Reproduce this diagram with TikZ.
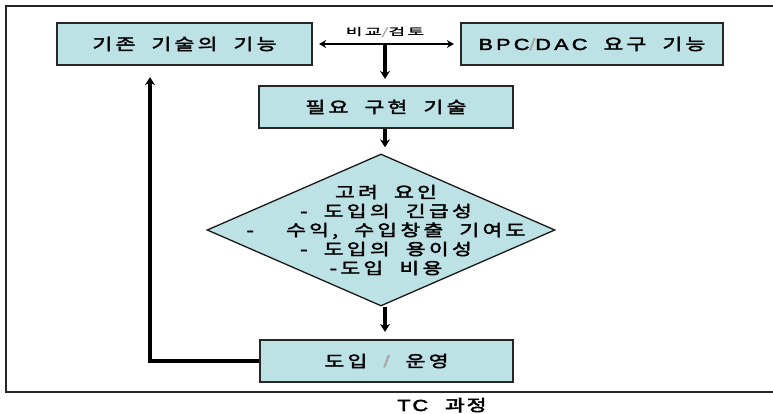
\documentclass[tikz,border=0pt]{standalone}
\usepackage{fontspec}
\newfontfamily\kr[FakeStretch=1.35,LetterSpace=20,WordSpace=2,FakeBold=2.4]{Noto Sans CJK KR}
\newfontfamily\krl[FakeStretch=1.35,LetterSpace=20,WordSpace=2,FakeBold=2.4]{Liberation Sans}
\newfontfamily\krs[FakeStretch=1.8,LetterSpace=25,FakeBold=1.8]{Noto Sans CJK KR}
\newfontfamily\krt[FakeStretch=1.35,LetterSpace=12,WordSpace=2.5,FakeBold=3.2]{Noto Sans CJK KR}
\newfontfamily\krtl[FakeStretch=1.35,LetterSpace=12,WordSpace=2.5,FakeBold=3.2]{Liberation Sans}
\usetikzlibrary{shapes.geometric,arrows.meta,calc}
\definecolor{boxfill}{RGB}{189,226,230}
\newcommand{\gslash}{\textcolor{black!35}{/}}
\tikzset{
  flowbox/.style={draw=black!85, line width=2.2pt, fill=boxfill, minimum height=42pt, inner sep=0pt, font=\kr\fontsize{16}{18}\selectfont},
  thickarrow/.style={line width=3.6pt, -{Stealth[length=8pt,width=10pt]}},
  thinarrow/.style={line width=2.4pt, {Stealth[length=7pt,width=8pt]}-{Stealth[length=7pt,width=8pt]}}
}
\begin{document}
\begin{tikzpicture}[x=1pt,y=-1pt]
\useasboundingbox (0,0) rectangle (773,414);
\draw[line width=2pt, black!85] (6,6) rectangle (790,392);
\node[flowbox, minimum width=255pt] (b1) at (184.5,44) {기존 기술의 기능};
\node[flowbox, minimum width=262pt] (b2) at (592,44) {{\krl BPC\gslash DAC} 요구 기능};
\node[flowbox, minimum width=254pt] (b3) at (386,107) {필요 구현 기술};
\node[draw=black!90, line width=1.3pt, fill=boxfill, shape=diamond, minimum width=348pt, minimum height=152pt, inner sep=0pt] (dia) at (381,230) {};
\node[align=center, font=\kr\fontsize{16}{19}\selectfont, inner sep=0pt] (dtext) at (386,230) {고려 요인\\- 도입의 긴급성\\-\hspace{16pt} 수익, 수입창출 기여도\\- 도입의 용이성\\-도입 비용};
\node[flowbox, minimum width=253pt] (b4) at (386.5,361) {도입 {\krl\gslash} 운영};
\node[font=\krs\fontsize{10}{12}\selectfont, inner sep=0pt] (cmp) at (385,32) {비교\gslash 검토};
\node[font=\krt\fontsize{16}{18}\selectfont, inner sep=0pt] (tc) at (442,405) {{\krtl TC} 과정};
\coordinate (jn) at (385,43);
\draw[thinarrow, shorten <=6pt, shorten >=6pt] (b1.east) -- (b2.west);
\draw[thickarrow, shorten >=6pt] (jn) -- (jn |- b3.north);
\draw[thickarrow, shorten >=6pt] (b3.south -| jn) -- (dia.north -| jn);
\draw[thickarrow, shorten >=7pt] (dia.south -| jn) -- (b4.north -| jn);
\coordinate (ret) at (150,361);
\draw[thickarrow, shorten >=11pt] (b4.west) -- (ret) -- (ret |- b1.south);
\end{tikzpicture}
\end{document}
